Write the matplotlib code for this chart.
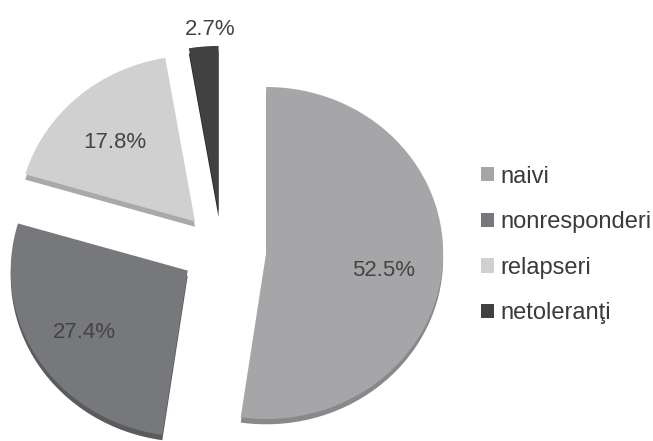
import matplotlib.pyplot as plt
import numpy as np

plt.rcParams['font.family'] = ['Liberation Sans', 'DejaVu Sans']

categories = ['naivi', 'nonresponderi', 'relapseri', 'netoleranţi']
values = [52.5, 27.4, 17.8, 2.7]
pct_labels = ['52.5%', '27.4%', '17.8%', '2.7%']

colors = ['#a6a6a8', '#77787b', '#d0d0d0', '#414141']
side_colors = ['#88898c', '#5a5b5e', '#a9a9a9', '#2c2c2c']
explode = [0.25, 0.23, 0.23, 0.23]
label_dist = [0.67, 0.69, 0.66, 1.1]
label_turn = [-5, 0, 2, -2.5]   # small angle tweaks (deg) for the % labels

W, H = 653, 441
cx, cy = 222, 250      # pie centre in pixels (from top-left)
rx, ry = 177, 166      # radius in pixels, slightly squashed (3d tilt)

fig = plt.figure(figsize=(W / 100, H / 100), dpi=100)
ax = fig.add_axes([0, 0, 1, 1])

# side / thickness of the 3d pie: darker copy shifted down
ax.pie(values, colors=side_colors, startangle=90, counterclock=False,
       explode=explode, center=(0, -0.032), wedgeprops=dict(linewidth=0))
wedges, _ = ax.pie(values, colors=colors, startangle=90, counterclock=False,
                   explode=explode, wedgeprops=dict(linewidth=0))

for w, txt, d, t in zip(wedges, pct_labels, label_dist, label_turn):
    mid = np.deg2rad((w.theta1 + w.theta2) / 2 + t)
    x0, y0 = w.center
    ax.text(x0 + d * np.cos(mid), y0 + d * np.sin(mid), txt,
            ha='center', va='center', fontsize=16, color='#444444')

ax.set_aspect('auto')
ax.set_xlim(-cx / rx, (W - cx) / rx)
ax.set_ylim(-(H - cy) / ry, cy / ry)
ax.axis('off')

ax.legend(wedges, categories, loc='center left',
          bbox_to_anchor=(481 / W, 1 - 245 / H), bbox_transform=fig.transFigure,
          frameon=False, fontsize=17, handlelength=0.55, handleheight=0.55,
          handletextpad=0.28, labelspacing=1.0, borderpad=0, borderaxespad=0,
          labelcolor='#3a3a3a')

fig.savefig('out.png', dpi=100)
